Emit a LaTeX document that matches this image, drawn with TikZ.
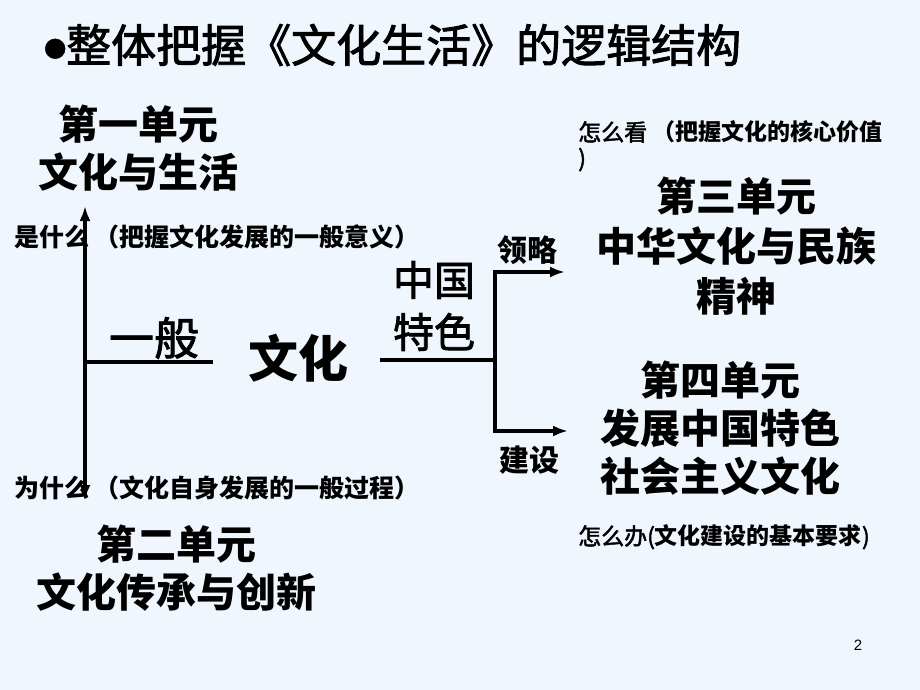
\documentclass[tikz,border=0pt]{standalone}
\usepackage{fontspec}
\setmainfont{Noto Sans CJK SC}
\newfontfamily\heifont[FakeBold=2]{Noto Sans CJK SC}
\newfontfamily\pagefont{Liberation Sans}
\usetikzlibrary{arrows.meta,positioning}
\definecolor{slidebg}{RGB}{239,246,254}
\tikzset{
  axisline/.style={line width=3.5pt,{Latex[length=15pt,width=11pt]}-{Latex[length=15pt,width=11pt]}},
  branch/.style={line width=3.5pt,-{Latex[length=15pt,width=11pt]}},
  link/.style={line width=3.5pt},
  unit/.style={align=center, inner sep=0pt, font=\bfseries\fontsize{40}{48}\selectfont},
  keyword/.style={align=center, inner sep=0pt, font=\heifont\fontsize{41}{52}\selectfont},
  verb/.style={inner sep=0pt, font=\bfseries\fontsize{30}{30}\selectfont},
  note/.style={anchor=west, inner sep=0pt, font=\bfseries\fontsize{25}{28}\selectfont}
}

\begin{document}
\begin{tikzpicture}[x=1pt,y=-1pt]
\useasboundingbox (0,0) rectangle (920,690);
\fill[slidebg] (0,0) rectangle (920,690);

% Title
\node[anchor=west, inner sep=0pt, font=\heifont\fontsize{45}{50}\selectfont] (title) at (44,45)
  {\raisebox{5pt}{\fontsize{22}{22}\selectfont ●}整体把握《文化生活》的逻辑结构};

% Units on the left
\node[unit] (unitone) at (138,148) {第一单元\\文化与生活};
\node[unit] (unittwo) at (176,568) {第二单元\\文化传承与创新};

% Axis and notes
\coordinate (axistop) at (85,206);
\coordinate (axisbot) at (85,500);
\coordinate (axismid) at (85,362);
\draw[axisline] (axisbot) -- (axistop);
\node[note] (whatnote) at (14,237) {是什么 （把握文化发展的一般意义）};
\node[note] (whynote) at (14,488) {为什么 （文化自身发展的一般过程）};

% General line
\node[keyword, font=\heifont\fontsize{45}{50}\selectfont] (general) at (154,338) {一般};
\coordinate (generalend) at (213,362);
\draw[link] (axismid) -- (generalend);

\node[inner sep=0pt, font=\bfseries\fontsize{50}{50}\selectfont] (culture) at (298,358) {文化};

% Chinese features and the fork
\node[keyword] (china) at (434,306) {中国\\特色};
\coordinate (featstart) at (380,360);
\coordinate (fork) at (495,360);
\coordinate (forktop) at (495,272);
\coordinate (forkbot) at (495,431);
\coordinate (tiptop) at (565,272);
\coordinate (tipbot) at (568,431);
\draw[link] (featstart) -- (fork);
\draw[branch] (fork) -- (forktop) -- (tiptop);
\draw[branch] (fork) -- (forkbot) -- (tipbot);
\node[verb] (grasp) at (527,250) {领略};
\node[verb] (build) at (529,460) {建设};

% Units on the right
\node[note, font=\heifont\fontsize{23}{26}\selectfont, align=left] (hownote) at (578,146)
  {怎么看 {\rmfamily\bfseries （把握文化的核心价值}\\)};
\node[unit, font=\bfseries\fontsize{40}{50}\selectfont] (unitthree) at (736,246)
  {第三单元\\中华文化与民族\\精神};
\node[unit] (unitfour) at (720,428) {第四单元\\发展中国特色\\社会主义文化};
\node[note, font=\heifont\fontsize{23}{26}\selectfont] (donote) at (578,537)
  {怎么办({\rmfamily\bfseries 文化建设的基本要求})};

% Page number
\node[inner sep=0pt, font=\pagefont\fontsize{15}{15}\selectfont] (pagenum) at (858,645) {2};
\end{tikzpicture}
\end{document}
